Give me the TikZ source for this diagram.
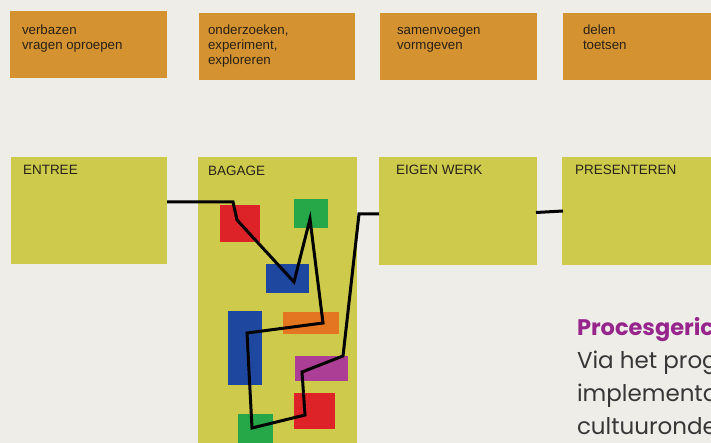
\documentclass[tikz,border=0pt]{standalone}
\usepackage{fontspec}
\setmainfont{Liberation Sans}
\newfontfamily\popfont{Poppins}
\begin{document}
\begin{tikzpicture}[x=1pt,y=-1pt,
  every node/.style={inner sep=0pt, outer sep=0pt},
  topbox/.style={fill=boxorange, anchor=north west},
  stagebox/.style={fill=boxyellow, anchor=north west},
  boxtext/.style={anchor=north west, align=left, text=textdark, font=\fontsize{13.3}{15.2}\selectfont},
  stagelabel/.style={anchor=base west, text=textdark, font=\fontsize{13.5}{15}\selectfont},
  chip/.style={anchor=north west},
  pathline/.style={line width=3pt, black, line join=miter},
  bodytext/.style={anchor=base west, text=bodygray, font=\popfont\fontsize{23}{30}\selectfont}
]
\definecolor{bg}{RGB}{239,237,232}
\definecolor{boxorange}{RGB}{212,146,48}
\definecolor{boxyellow}{RGB}{205,202,76}
\definecolor{textdark}{RGB}{40,34,24}
\definecolor{chipred}{RGB}{221,35,40}
\definecolor{chipgreen}{RGB}{38,168,72}
\definecolor{chipblue}{RGB}{30,72,160}
\definecolor{chiporange}{RGB}{228,118,34}
\definecolor{chipmagenta}{RGB}{172,62,150}
\definecolor{procpurple}{RGB}{150,38,140}
\definecolor{bodygray}{RGB}{55,55,55}
\useasboundingbox (0,0) rectangle (711,443);
\clip (0,0) rectangle (711,443);
\fill[bg] (0,0) rectangle (711,443);

% top row
\node[topbox, minimum width=157pt, minimum height=67pt] (t1) at (10,11) {};
\node[topbox, minimum width=156pt, minimum height=67pt] (t2) at (199,13) {};
\node[topbox, minimum width=157pt, minimum height=67pt] (t3) at (380,13) {};
\node[topbox, minimum width=160pt, minimum height=67pt] (t4) at (563,13) {};
\node[boxtext] (t1txt) at (22,23.5) {\strut verbazen\\vragen oproepen};
\node[boxtext] (t2txt) at (208,23.5) {\strut onderzoeken,\\experiment,\\exploreren};
\node[boxtext] (t3txt) at (397,23.5) {\strut samenvoegen\\vormgeven};
\node[boxtext] (t4txt) at (583,23.5) {\strut delen\\toetsen};

% stage row
\node[stagebox, minimum width=156pt, minimum height=107pt] (entree) at (11,157) {};
\node[stagebox, minimum width=159pt, minimum height=300pt] (bagage) at (198,157) {};
\node[stagebox, minimum width=158pt, minimum height=108pt] (eigen) at (379,157) {};
\node[stagebox, minimum width=160pt, minimum height=108pt] (pres) at (562,157) {};
\node[stagelabel] (entreelbl) at (23,175) {ENTREE};
\node[stagelabel] (bagagelbl) at (208,175.5) {BAGAGE};
\node[stagelabel] (eigenlbl) at (396,175) {EIGEN WERK};
\node[stagelabel] (preslbl) at (575,175) {PRESENTEREN};

% chips in BAGAGE
\node[chip, fill=chipred, minimum width=40pt, minimum height=37pt] (red1) at (220,205) {};
\node[chip, fill=chipgreen, minimum width=34pt, minimum height=29pt] (green1) at (294,199) {};
\node[chip, fill=chipblue, minimum width=43pt, minimum height=29pt] (blue1) at (266,264) {};
\node[chip, fill=chipblue, minimum width=34pt, minimum height=74pt] (blue2) at (228,311) {};
\node[chip, fill=chiporange, minimum width=56pt, minimum height=22pt] (orange1) at (283,312) {};
\node[chip, fill=chipmagenta, minimum width=53pt, minimum height=25pt] (mag1) at (295,356) {};
\node[chip, fill=chipred, minimum width=41pt, minimum height=36pt] (red2) at (294,393) {};
\node[chip, fill=chipgreen, minimum width=35pt, minimum height=32pt] (green2) at (238,414) {};

% path coordinates
\coordinate (p1) at (233,202);
\coordinate (p2) at (237,220);
\coordinate (p3) at (294,282);
\coordinate (p4) at (310,219);
\coordinate (p5) at (323,323);
\coordinate (p6) at (247,333);
\coordinate (p7) at (252,428);
\coordinate (p8) at (305,415);
\coordinate (p9) at (302,372);
\coordinate (p10) at (343,356);
\coordinate (p11) at (359,214);
\coordinate (e1) at (536,212.5);
\coordinate (e2) at (563,211);

\draw[pathline] (entree.east |- p1) -- (p1) -- (p2) -- (p3) -- (p4) -- (p5) -- (p6) -- (p7) -- (p8) -- (p9) -- (p10) -- (p11) -- (eigen.west |- p11);
\draw[pathline] (e1) -- (e2);

% text bottom right (cut off at the edge, as in the reference)
\node[bodytext, text=procpurple, font=\popfont\bfseries\fontsize{22.5}{30}\selectfont] (proc) at (577,335) {Procesgeric};
\node[bodytext] (line1) at (577,368) {Via het prog};
\node[bodytext] (line2) at (577,401) {implementa};
\node[bodytext] (line3) at (577,434) {cultuuronde};
\end{tikzpicture}
\end{document}
